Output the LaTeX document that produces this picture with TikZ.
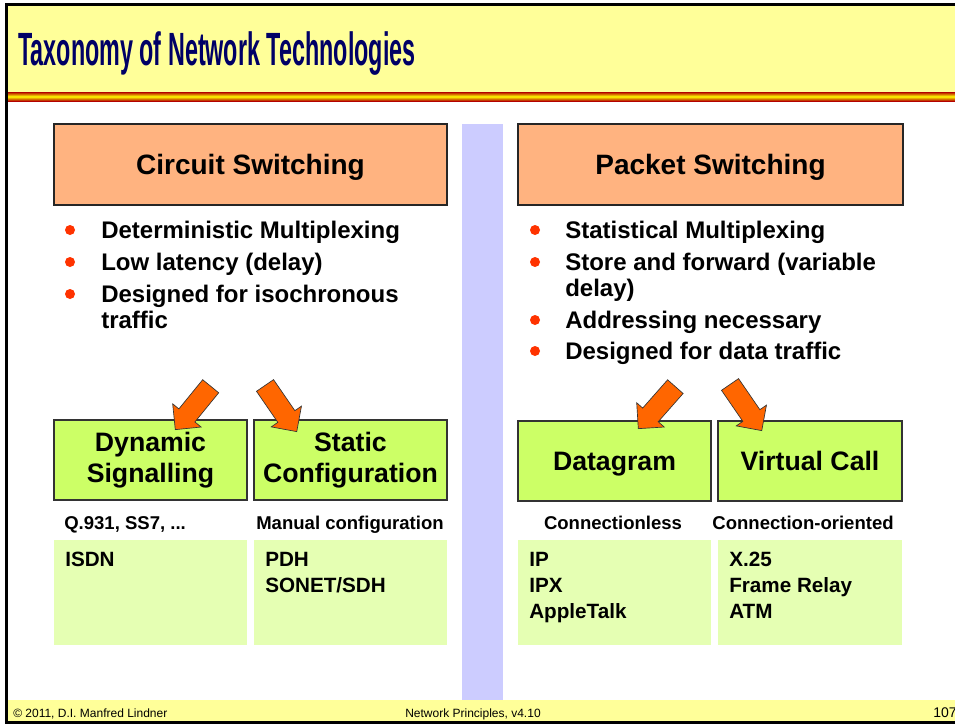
\documentclass[tikz,border=0pt]{standalone}
\usepackage{fontspec}
\setmainfont{Liberation Sans}
\usetikzlibrary{shapes.arrows}
\definecolor{titlebg}{HTML}{FFFF99}
\definecolor{titleblue}{HTML}{000066}
\definecolor{peach}{HTML}{FFB380}
\definecolor{lilac}{HTML}{CCCCFF}
\definecolor{lime}{HTML}{CCFF66}
\definecolor{palelime}{HTML}{E5FFB3}
\definecolor{arroworange}{HTML}{FF6600}
\definecolor{dotred}{HTML}{FF3300}
\definecolor{stripered}{HTML}{B30000}

\begin{document}
\begin{tikzpicture}[x=0.75pt,y=-0.75pt,
    headbox/.style={draw=black!85,line width=0.9pt,fill=peach,minimum height=60.75pt,text depth=0pt,font=\fontsize{21}{24}\selectfont\bfseries},
    kindbox/.style={draw=black!80,line width=0.9pt,fill=lime,minimum height=60pt,align=center,font=\fontsize{20}{23}\selectfont\bfseries},
    listbox/.style={fill=palelime,minimum height=78.75pt,anchor=north west,inner sep=0},
    listtext/.style={anchor=base west,inner sep=0,align=left,font=\fontsize{15.5}{19.5}\selectfont\bfseries},
    sublabel/.style={anchor=base,inner sep=0,font=\fontsize{13.9}{16}\selectfont\bfseries},
    item/.style={anchor=base west,inner sep=0,align=left,font=\fontsize{18}{19.5}\selectfont\bfseries},
    dot/.style={circle,fill=dotred,inner sep=0,minimum size=7.5pt},
    fatarrow/.style={single arrow,draw=black!80,line width=0.5pt,fill=arroworange,minimum height=42pt,minimum width=0pt,inner sep=7.5pt,single arrow head extend=6pt,anchor=tip},
    foot/.style={inner sep=0,font=\fontsize{9}{11}\selectfont}]
    \useasboundingbox (0,0) rectangle (955,724);
    \fill[white] (0,0) rectangle (955,724);
    \fill[titlebg] (6,4) rectangle (960,92);
    \shade[top color=stripered,bottom color=stripered,middle color=yellow] (6,92) rectangle (960,101);
    \fill[titlebg] (6,700) rectangle (960,722);
    \draw[line width=2.25pt] (6.5,4.5) rectangle (965,722.5);
    \node[anchor=base west,inner sep=0,text=titleblue,font=\fontsize{35}{38}\selectfont\bfseries] (title) at (18,65) {\scalebox{0.5}[1]{Taxonomy of Network Technologies}};

    \fill[lilac] (462,124) rectangle (503,700);

    \node[headbox,minimum width=294.75pt] (circuit) at (250.5,164.5) {Circuit Switching};
    \node[headbox,minimum width=288.75pt] (packet) at (710.5,164.5) {Packet Switching};

    \node[dot] (cb1) at (70,230) {};
    \node[dot] (cb2) at (70,262) {};
    \node[dot] (cb3) at (70,294) {};
    \node[item] (c1) at (101,238) {Deterministic Multiplexing};
    \node[item] (c2) at (101,270) {Low latency (delay)};
    \node[item] (c3) at (101,328) {Designed for isochronous\\traffic};

    \node[dot] (pb1) at (535,230) {};
    \node[dot] (pb2) at (535,262) {};
    \node[dot] (pb3) at (535,320) {};
    \node[dot] (pb4) at (535,351) {};
    \node[item] (p1) at (565,238) {Statistical Multiplexing};
    \node[item] (p2) at (565,296) {Store and forward (variable\\delay)};
    \node[item] (p3) at (565,328) {Addressing necessary};
    \node[item] (p4) at (565,359) {Designed for data traffic};

    \node[kindbox,minimum width=144.75pt] (dynamic) at (150.5,460) {Dynamic\\Signalling};
    \node[kindbox,minimum width=144.75pt] (static) at (350.5,460) {Static\\Configuration};
    \node[kindbox,minimum width=144.75pt,text depth=0pt] (datagram) at (614.5,461) {Datagram};
    \node[kindbox,minimum width=138pt,text depth=0pt] (virtual) at (810,461) {Virtual Call};

    \node[fatarrow,rotate=230.8] (a1) at (175,430) {};
    \node[fatarrow,rotate=304.5] (a2) at (297,432) {};
    \node[fatarrow,rotate=228.6] (a3) at (638,429) {};
    \node[fatarrow,rotate=304.5] (a4) at (762,431) {};

    \node[sublabel,anchor=base west] (q931) at (64,529) {Q.931, SS7, ...};
    \node[sublabel] (manual) at (350,529) {Manual configuration};
    \node[sublabel] (cless) at (613,529) {Connectionless};
    \node[sublabel] (coriented) at (803,529) {Connection-oriented};

    \node[listbox,minimum width=144.75pt] (isdnbox) at (54,540) {};
    \node[listbox,minimum width=144.75pt] (pdhbox) at (254,540) {};
    \node[listbox,minimum width=144.75pt] (ipbox) at (518,540) {};
    \node[listbox,minimum width=138pt] (x25box) at (718,540) {};
    \node[listtext] (isdn) at (65,566) {ISDN};
    \node[listtext] (pdh) at (265,592) {PDH\\SONET/SDH};
    \node[listtext] (ip) at (529,618) {IP\\IPX\\AppleTalk};
    \node[listtext] (x25) at (729,618) {X.25\\Frame Relay\\ATM};

    \node[foot,anchor=base west] (copy) at (13,717) {\textcopyright{} 2011, D.I. Manfred Lindner};
    \node[foot,anchor=base] (course) at (473,717) {Network Principles, v4.10};
    \node[foot,anchor=base east,font=\fontsize{10.5}{12}\selectfont] (page) at (957,717) {107};
\end{tikzpicture}
\end{document}
